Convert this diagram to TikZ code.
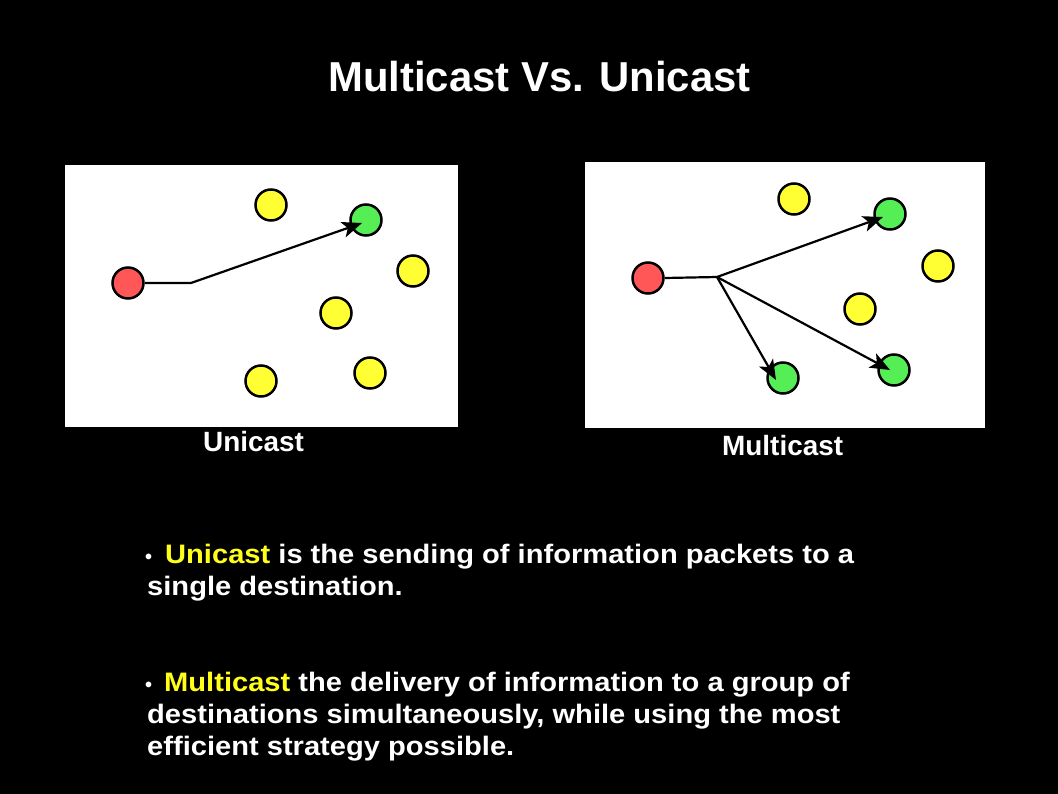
\documentclass[tikz,border=0pt]{standalone}
\usepackage{fontspec}
\setmainfont{Liberation Sans}
\newfontfamily\bodyfont{Liberation Sans}[FakeStretch=1.09]
\usetikzlibrary{arrows.meta,calc}
\definecolor{nred}{HTML}{FF5757}
\definecolor{nyellow}{HTML}{FFFF33}
\definecolor{ngreen}{HTML}{55EE55}
\definecolor{tyellow}{HTML}{FFFF1A}
\tikzset{
  dot/.style={circle,draw=black,line width=2.5bp,minimum size=31bp,inner sep=0pt},
  src/.style={dot,fill=nred},
  idle/.style={dot,fill=nyellow},
  dest/.style={dot,fill=ngreen},
  panel/.style={fill=white,draw=none},
  link/.style={line width=2.2bp,black},
  arr/.style={link,-{Stealth[length=20bp,width=16bp,inset=5bp]}},
  title/.style={text=white,font=\bfseries\fontsize{42}{48}\selectfont,anchor=base,inner sep=0pt},
  caption/.style={text=white,font=\bfseries\fontsize{28}{32}\selectfont,anchor=base west,inner sep=0pt},
  body/.style={text=white,font=\bodyfont\bfseries\fontsize{26.8}{30}\selectfont,anchor=base west,inner sep=0pt},
  bul/.style={text=white,font=\bfseries\fontsize{20}{22}\selectfont,anchor=base west,inner sep=0pt}
}
\begin{document}
\begin{tikzpicture}[x=1bp,y=-1bp]
\fill[black] (0,0) rectangle (1058,794);
\useasboundingbox (0,0) rectangle (1058,794);
\node[title] (ttl) at (539.5,92) {Multicast Vs. Unicast};
% left panel
\fill[panel] (65,165) rectangle (458,427);
\node[src] (ur) at (128,283) {};
\node[idle] (uy1) at (271,205) {};
\node[dest] (ug) at (366,220) {};
\node[idle] (uy2) at (413,271) {};
\node[idle] (uy3) at (336,313) {};
\node[idle] (uy4) at (261,381) {};
\node[idle] (uy5) at (370,373) {};
\coordinate (ub) at (191,283);
\coordinate (ut) at ($(ug.center)+(-4,3)$);
\draw[arr] (ur.east) -- (ub) -- (ut);
% right panel
\fill[panel] (585,162) rectangle (985,428);
\node[src] (mr) at (648,278) {};
\node[idle] (my1) at (794,199) {};
\node[dest] (mg1) at (890,214) {};
\node[idle] (my2) at (938,266) {};
\node[idle] (my3) at (860,309) {};
\node[dest] (mg2) at (783,378) {};
\node[dest] (mg3) at (894,370) {};
\coordinate (mb) at (717,277);
\coordinate (mt1) at ($(mg1.center)+(-7,3)$);
\coordinate (mt2) at ($(mg2.center)+(-7,2)$);
\coordinate (mt3) at ($(mg3.center)+(-4,0)$);
\draw[link] (mr.east) -- (mb);
\draw[arr] (mb) -- (mt1);
\draw[arr] (mb) -- (mt2);
\draw[arr] (mb) -- (mt3);
% captions
\node[caption] (cu) at (203,451) {Unicast};
\node[caption] (cm) at (722,455) {Multicast};
% bullets
\node[bul] (b1) at (145,563) {•};
\node[body] (l1) at (165,563) {\textcolor{tyellow}{Unicast} is the sending of information packets to a};
\node[body] (l2) at (147,595) {single destination.};
\node[bul] (b2) at (145,691) {•};
\node[body] (l3) at (164,691) {\textcolor{tyellow}{Multicast} the delivery of information to a group of};
\node[body] (l4) at (147,723) {destinations simultaneously, while using the most};
\node[body] (l5) at (147,755) {efficient strategy possible.};
\end{tikzpicture}
\end{document}
